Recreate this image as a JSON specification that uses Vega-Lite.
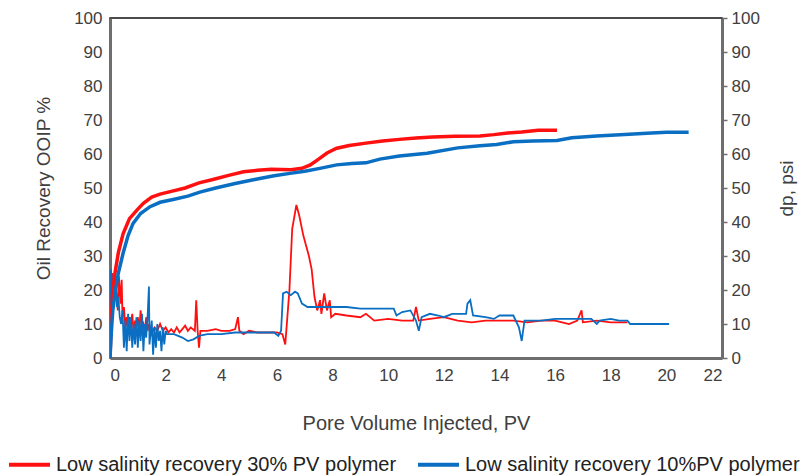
{
  "$schema": "https://vega.github.io/schema/vega-lite/v6.json",
  "width": 612,
  "height": 340,
  "autosize": {"type": "none"},
  "padding": {"left": 110, "top": 18, "right": 84, "bottom": 117},
  "config": {
    "font": "Liberation Sans",
    "view": {"stroke": "#111111", "strokeWidth": 1.5},
    "axis": {
      "grid": false,
      "domainColor": "#6e6e6e",
      "domainWidth": 3,
      "labelColor": "#404040",
      "labelFontSize": 17,
      "titleColor": "#404040",
      "titleFontSize": 19,
      "titleFontWeight": "normal"
    }
  },
  "datasets": {
    "recovery": [
      {"pv": 0, "value": 0, "series": "Low salinity recovery 30% PV polymer"},
      {"pv": 0.05, "value": 12, "series": "Low salinity recovery 30% PV polymer"},
      {"pv": 0.1, "value": 20, "series": "Low salinity recovery 30% PV polymer"},
      {"pv": 0.18, "value": 25, "series": "Low salinity recovery 30% PV polymer"},
      {"pv": 0.3, "value": 31, "series": "Low salinity recovery 30% PV polymer"},
      {"pv": 0.47, "value": 36.5, "series": "Low salinity recovery 30% PV polymer"},
      {"pv": 0.7, "value": 41, "series": "Low salinity recovery 30% PV polymer"},
      {"pv": 1.0, "value": 43.8, "series": "Low salinity recovery 30% PV polymer"},
      {"pv": 1.2, "value": 45.5, "series": "Low salinity recovery 30% PV polymer"},
      {"pv": 1.5, "value": 47.3, "series": "Low salinity recovery 30% PV polymer"},
      {"pv": 1.8, "value": 48.2, "series": "Low salinity recovery 30% PV polymer"},
      {"pv": 2.2, "value": 49, "series": "Low salinity recovery 30% PV polymer"},
      {"pv": 2.7, "value": 50, "series": "Low salinity recovery 30% PV polymer"},
      {"pv": 3.2, "value": 51.5, "series": "Low salinity recovery 30% PV polymer"},
      {"pv": 3.7, "value": 52.5, "series": "Low salinity recovery 30% PV polymer"},
      {"pv": 4.3, "value": 53.8, "series": "Low salinity recovery 30% PV polymer"},
      {"pv": 4.8, "value": 54.8, "series": "Low salinity recovery 30% PV polymer"},
      {"pv": 5.3, "value": 55.2, "series": "Low salinity recovery 30% PV polymer"},
      {"pv": 5.8, "value": 55.5, "series": "Low salinity recovery 30% PV polymer"},
      {"pv": 6.5, "value": 55.4, "series": "Low salinity recovery 30% PV polymer"},
      {"pv": 6.9, "value": 55.8, "series": "Low salinity recovery 30% PV polymer"},
      {"pv": 7.2, "value": 56.8, "series": "Low salinity recovery 30% PV polymer"},
      {"pv": 7.5, "value": 58.5, "series": "Low salinity recovery 30% PV polymer"},
      {"pv": 7.8, "value": 60.3, "series": "Low salinity recovery 30% PV polymer"},
      {"pv": 8.15, "value": 61.7, "series": "Low salinity recovery 30% PV polymer"},
      {"pv": 8.6, "value": 62.5, "series": "Low salinity recovery 30% PV polymer"},
      {"pv": 9.2, "value": 63.2, "series": "Low salinity recovery 30% PV polymer"},
      {"pv": 9.8, "value": 63.8, "series": "Low salinity recovery 30% PV polymer"},
      {"pv": 10.4, "value": 64.3, "series": "Low salinity recovery 30% PV polymer"},
      {"pv": 11.0, "value": 64.7, "series": "Low salinity recovery 30% PV polymer"},
      {"pv": 11.6, "value": 65, "series": "Low salinity recovery 30% PV polymer"},
      {"pv": 12.4, "value": 65.2, "series": "Low salinity recovery 30% PV polymer"},
      {"pv": 13.3, "value": 65.3, "series": "Low salinity recovery 30% PV polymer"},
      {"pv": 13.8, "value": 65.7, "series": "Low salinity recovery 30% PV polymer"},
      {"pv": 14.3, "value": 66.2, "series": "Low salinity recovery 30% PV polymer"},
      {"pv": 14.8, "value": 66.5, "series": "Low salinity recovery 30% PV polymer"},
      {"pv": 15.4, "value": 67, "series": "Low salinity recovery 30% PV polymer"},
      {"pv": 16.07, "value": 67, "series": "Low salinity recovery 30% PV polymer"},
      {"pv": 0, "value": 0, "series": "Low salinity recovery 10%PV polymer"},
      {"pv": 0.05, "value": 8, "series": "Low salinity recovery 10%PV polymer"},
      {"pv": 0.1, "value": 14, "series": "Low salinity recovery 10%PV polymer"},
      {"pv": 0.18, "value": 19, "series": "Low salinity recovery 10%PV polymer"},
      {"pv": 0.3, "value": 25, "series": "Low salinity recovery 10%PV polymer"},
      {"pv": 0.47, "value": 30.8, "series": "Low salinity recovery 10%PV polymer"},
      {"pv": 0.65, "value": 36, "series": "Low salinity recovery 10%PV polymer"},
      {"pv": 0.83, "value": 39.6, "series": "Low salinity recovery 10%PV polymer"},
      {"pv": 1.1, "value": 42.5, "series": "Low salinity recovery 10%PV polymer"},
      {"pv": 1.44, "value": 44.5, "series": "Low salinity recovery 10%PV polymer"},
      {"pv": 1.8, "value": 45.8, "series": "Low salinity recovery 10%PV polymer"},
      {"pv": 2.27, "value": 46.6, "series": "Low salinity recovery 10%PV polymer"},
      {"pv": 2.8, "value": 47.6, "series": "Low salinity recovery 10%PV polymer"},
      {"pv": 3.23, "value": 48.8, "series": "Low salinity recovery 10%PV polymer"},
      {"pv": 3.8, "value": 50, "series": "Low salinity recovery 10%PV polymer"},
      {"pv": 4.5, "value": 51.3, "series": "Low salinity recovery 10%PV polymer"},
      {"pv": 5.2, "value": 52.5, "series": "Low salinity recovery 10%PV polymer"},
      {"pv": 5.9, "value": 53.6, "series": "Low salinity recovery 10%PV polymer"},
      {"pv": 6.47, "value": 54.3, "series": "Low salinity recovery 10%PV polymer"},
      {"pv": 7.0, "value": 54.9, "series": "Low salinity recovery 10%PV polymer"},
      {"pv": 7.5, "value": 55.7, "series": "Low salinity recovery 10%PV polymer"},
      {"pv": 8.15, "value": 56.8, "series": "Low salinity recovery 10%PV polymer"},
      {"pv": 8.7, "value": 57.2, "series": "Low salinity recovery 10%PV polymer"},
      {"pv": 9.2, "value": 57.4, "series": "Low salinity recovery 10%PV polymer"},
      {"pv": 9.7, "value": 58.5, "series": "Low salinity recovery 10%PV polymer"},
      {"pv": 10.4, "value": 59.4, "series": "Low salinity recovery 10%PV polymer"},
      {"pv": 11.4, "value": 60.2, "series": "Low salinity recovery 10%PV polymer"},
      {"pv": 12.5, "value": 61.8, "series": "Low salinity recovery 10%PV polymer"},
      {"pv": 13.3, "value": 62.4, "series": "Low salinity recovery 10%PV polymer"},
      {"pv": 13.9, "value": 62.8, "series": "Low salinity recovery 10%PV polymer"},
      {"pv": 14.5, "value": 63.6, "series": "Low salinity recovery 10%PV polymer"},
      {"pv": 15.2, "value": 63.8, "series": "Low salinity recovery 10%PV polymer"},
      {"pv": 16.07, "value": 64, "series": "Low salinity recovery 10%PV polymer"},
      {"pv": 16.6, "value": 64.8, "series": "Low salinity recovery 10%PV polymer"},
      {"pv": 17.5, "value": 65.3, "series": "Low salinity recovery 10%PV polymer"},
      {"pv": 18.5, "value": 65.7, "series": "Low salinity recovery 10%PV polymer"},
      {"pv": 19.3, "value": 66.1, "series": "Low salinity recovery 10%PV polymer"},
      {"pv": 20.0, "value": 66.4, "series": "Low salinity recovery 10%PV polymer"},
      {"pv": 20.8, "value": 66.4, "series": "Low salinity recovery 10%PV polymer"}
    ],
    "pressure": [
      {"pv": 0.0, "dp": 0, "series": "Low salinity recovery 30% PV polymer"},
      {"pv": 0.05, "dp": 12, "series": "Low salinity recovery 30% PV polymer"},
      {"pv": 0.08, "dp": 25, "series": "Low salinity recovery 30% PV polymer"},
      {"pv": 0.12, "dp": 18, "series": "Low salinity recovery 30% PV polymer"},
      {"pv": 0.18, "dp": 22, "series": "Low salinity recovery 30% PV polymer"},
      {"pv": 0.22, "dp": 20, "series": "Low salinity recovery 30% PV polymer"},
      {"pv": 0.28, "dp": 14, "series": "Low salinity recovery 30% PV polymer"},
      {"pv": 0.32, "dp": 24, "series": "Low salinity recovery 30% PV polymer"},
      {"pv": 0.38, "dp": 16, "series": "Low salinity recovery 30% PV polymer"},
      {"pv": 0.42, "dp": 23, "series": "Low salinity recovery 30% PV polymer"},
      {"pv": 0.45, "dp": 12, "series": "Low salinity recovery 30% PV polymer"},
      {"pv": 0.5, "dp": 15, "series": "Low salinity recovery 30% PV polymer"},
      {"pv": 0.55, "dp": 9, "series": "Low salinity recovery 30% PV polymer"},
      {"pv": 0.6, "dp": 12, "series": "Low salinity recovery 30% PV polymer"},
      {"pv": 0.65, "dp": 8, "series": "Low salinity recovery 30% PV polymer"},
      {"pv": 0.7, "dp": 12, "series": "Low salinity recovery 30% PV polymer"},
      {"pv": 0.75, "dp": 10, "series": "Low salinity recovery 30% PV polymer"},
      {"pv": 0.8, "dp": 13, "series": "Low salinity recovery 30% PV polymer"},
      {"pv": 0.85, "dp": 7, "series": "Low salinity recovery 30% PV polymer"},
      {"pv": 0.9, "dp": 11, "series": "Low salinity recovery 30% PV polymer"},
      {"pv": 0.95, "dp": 9, "series": "Low salinity recovery 30% PV polymer"},
      {"pv": 1.0, "dp": 12, "series": "Low salinity recovery 30% PV polymer"},
      {"pv": 1.05, "dp": 8, "series": "Low salinity recovery 30% PV polymer"},
      {"pv": 1.1, "dp": 14, "series": "Low salinity recovery 30% PV polymer"},
      {"pv": 1.15, "dp": 9, "series": "Low salinity recovery 30% PV polymer"},
      {"pv": 1.2, "dp": 10, "series": "Low salinity recovery 30% PV polymer"},
      {"pv": 1.25, "dp": 7, "series": "Low salinity recovery 30% PV polymer"},
      {"pv": 1.3, "dp": 12, "series": "Low salinity recovery 30% PV polymer"},
      {"pv": 1.35, "dp": 8, "series": "Low salinity recovery 30% PV polymer"},
      {"pv": 1.4, "dp": 10, "series": "Low salinity recovery 30% PV polymer"},
      {"pv": 1.5, "dp": 7, "series": "Low salinity recovery 30% PV polymer"},
      {"pv": 1.6, "dp": 9, "series": "Low salinity recovery 30% PV polymer"},
      {"pv": 1.7, "dp": 8, "series": "Low salinity recovery 30% PV polymer"},
      {"pv": 1.8, "dp": 10, "series": "Low salinity recovery 30% PV polymer"},
      {"pv": 1.9, "dp": 8, "series": "Low salinity recovery 30% PV polymer"},
      {"pv": 2.0, "dp": 9, "series": "Low salinity recovery 30% PV polymer"},
      {"pv": 2.1, "dp": 7.5, "series": "Low salinity recovery 30% PV polymer"},
      {"pv": 2.2, "dp": 8.5, "series": "Low salinity recovery 30% PV polymer"},
      {"pv": 2.3, "dp": 7.5, "series": "Low salinity recovery 30% PV polymer"},
      {"pv": 2.4, "dp": 9, "series": "Low salinity recovery 30% PV polymer"},
      {"pv": 2.5, "dp": 7.5, "series": "Low salinity recovery 30% PV polymer"},
      {"pv": 2.6, "dp": 8.5, "series": "Low salinity recovery 30% PV polymer"},
      {"pv": 2.7, "dp": 9.5, "series": "Low salinity recovery 30% PV polymer"},
      {"pv": 2.8, "dp": 8, "series": "Low salinity recovery 30% PV polymer"},
      {"pv": 2.9, "dp": 9, "series": "Low salinity recovery 30% PV polymer"},
      {"pv": 3.05, "dp": 8, "series": "Low salinity recovery 30% PV polymer"},
      {"pv": 3.1, "dp": 17, "series": "Low salinity recovery 30% PV polymer"},
      {"pv": 3.15, "dp": 8, "series": "Low salinity recovery 30% PV polymer"},
      {"pv": 3.2, "dp": 3, "series": "Low salinity recovery 30% PV polymer"},
      {"pv": 3.25, "dp": 8, "series": "Low salinity recovery 30% PV polymer"},
      {"pv": 3.5, "dp": 8, "series": "Low salinity recovery 30% PV polymer"},
      {"pv": 3.8, "dp": 8.5, "series": "Low salinity recovery 30% PV polymer"},
      {"pv": 4.0, "dp": 8, "series": "Low salinity recovery 30% PV polymer"},
      {"pv": 4.3, "dp": 8, "series": "Low salinity recovery 30% PV polymer"},
      {"pv": 4.5, "dp": 8.5, "series": "Low salinity recovery 30% PV polymer"},
      {"pv": 4.6, "dp": 12, "series": "Low salinity recovery 30% PV polymer"},
      {"pv": 4.65, "dp": 8, "series": "Low salinity recovery 30% PV polymer"},
      {"pv": 4.8, "dp": 7, "series": "Low salinity recovery 30% PV polymer"},
      {"pv": 5.0, "dp": 8, "series": "Low salinity recovery 30% PV polymer"},
      {"pv": 5.3, "dp": 7.5, "series": "Low salinity recovery 30% PV polymer"},
      {"pv": 5.6, "dp": 7.5, "series": "Low salinity recovery 30% PV polymer"},
      {"pv": 6.0, "dp": 7.5, "series": "Low salinity recovery 30% PV polymer"},
      {"pv": 6.2, "dp": 7, "series": "Low salinity recovery 30% PV polymer"},
      {"pv": 6.3, "dp": 4, "series": "Low salinity recovery 30% PV polymer"},
      {"pv": 6.45, "dp": 20, "series": "Low salinity recovery 30% PV polymer"},
      {"pv": 6.55, "dp": 38, "series": "Low salinity recovery 30% PV polymer"},
      {"pv": 6.7, "dp": 45, "series": "Low salinity recovery 30% PV polymer"},
      {"pv": 6.8, "dp": 42, "series": "Low salinity recovery 30% PV polymer"},
      {"pv": 6.95, "dp": 36, "series": "Low salinity recovery 30% PV polymer"},
      {"pv": 7.05, "dp": 33, "series": "Low salinity recovery 30% PV polymer"},
      {"pv": 7.15, "dp": 30, "series": "Low salinity recovery 30% PV polymer"},
      {"pv": 7.25, "dp": 26, "series": "Low salinity recovery 30% PV polymer"},
      {"pv": 7.35, "dp": 18, "series": "Low salinity recovery 30% PV polymer"},
      {"pv": 7.45, "dp": 14, "series": "Low salinity recovery 30% PV polymer"},
      {"pv": 7.55, "dp": 17, "series": "Low salinity recovery 30% PV polymer"},
      {"pv": 7.6, "dp": 13, "series": "Low salinity recovery 30% PV polymer"},
      {"pv": 7.7, "dp": 19, "series": "Low salinity recovery 30% PV polymer"},
      {"pv": 7.8, "dp": 14, "series": "Low salinity recovery 30% PV polymer"},
      {"pv": 7.9, "dp": 17, "series": "Low salinity recovery 30% PV polymer"},
      {"pv": 7.95, "dp": 12, "series": "Low salinity recovery 30% PV polymer"},
      {"pv": 8.1, "dp": 13, "series": "Low salinity recovery 30% PV polymer"},
      {"pv": 8.5, "dp": 12.5, "series": "Low salinity recovery 30% PV polymer"},
      {"pv": 9.0, "dp": 12, "series": "Low salinity recovery 30% PV polymer"},
      {"pv": 9.2, "dp": 13, "series": "Low salinity recovery 30% PV polymer"},
      {"pv": 9.5, "dp": 11, "series": "Low salinity recovery 30% PV polymer"},
      {"pv": 10.0, "dp": 11.5, "series": "Low salinity recovery 30% PV polymer"},
      {"pv": 10.5, "dp": 11, "series": "Low salinity recovery 30% PV polymer"},
      {"pv": 10.9, "dp": 11, "series": "Low salinity recovery 30% PV polymer"},
      {"pv": 11.0, "dp": 15, "series": "Low salinity recovery 30% PV polymer"},
      {"pv": 11.1, "dp": 11, "series": "Low salinity recovery 30% PV polymer"},
      {"pv": 11.5, "dp": 11.5, "series": "Low salinity recovery 30% PV polymer"},
      {"pv": 12.0, "dp": 12, "series": "Low salinity recovery 30% PV polymer"},
      {"pv": 12.5, "dp": 11, "series": "Low salinity recovery 30% PV polymer"},
      {"pv": 13.0, "dp": 10.5, "series": "Low salinity recovery 30% PV polymer"},
      {"pv": 13.5, "dp": 11, "series": "Low salinity recovery 30% PV polymer"},
      {"pv": 14.0, "dp": 11, "series": "Low salinity recovery 30% PV polymer"},
      {"pv": 14.5, "dp": 11, "series": "Low salinity recovery 30% PV polymer"},
      {"pv": 15.0, "dp": 10.5, "series": "Low salinity recovery 30% PV polymer"},
      {"pv": 15.5, "dp": 11, "series": "Low salinity recovery 30% PV polymer"},
      {"pv": 16.0, "dp": 11, "series": "Low salinity recovery 30% PV polymer"},
      {"pv": 16.5, "dp": 10, "series": "Low salinity recovery 30% PV polymer"},
      {"pv": 16.8, "dp": 11, "series": "Low salinity recovery 30% PV polymer"},
      {"pv": 16.95, "dp": 14, "series": "Low salinity recovery 30% PV polymer"},
      {"pv": 17.0, "dp": 10.5, "series": "Low salinity recovery 30% PV polymer"},
      {"pv": 17.5, "dp": 11, "series": "Low salinity recovery 30% PV polymer"},
      {"pv": 18.0, "dp": 10.5, "series": "Low salinity recovery 30% PV polymer"},
      {"pv": 18.6, "dp": 10.5, "series": "Low salinity recovery 30% PV polymer"},
      {"pv": 0.0, "dp": 0, "series": "Low salinity recovery 10%PV polymer"},
      {"pv": 0.03, "dp": 26, "series": "Low salinity recovery 10%PV polymer"},
      {"pv": 0.08, "dp": 22, "series": "Low salinity recovery 10%PV polymer"},
      {"pv": 0.15, "dp": 18, "series": "Low salinity recovery 10%PV polymer"},
      {"pv": 0.2, "dp": 24, "series": "Low salinity recovery 10%PV polymer"},
      {"pv": 0.25, "dp": 15, "series": "Low salinity recovery 10%PV polymer"},
      {"pv": 0.3, "dp": 18, "series": "Low salinity recovery 10%PV polymer"},
      {"pv": 0.35, "dp": 12, "series": "Low salinity recovery 10%PV polymer"},
      {"pv": 0.4, "dp": 10, "series": "Low salinity recovery 10%PV polymer"},
      {"pv": 0.45, "dp": 14, "series": "Low salinity recovery 10%PV polymer"},
      {"pv": 0.5, "dp": 3, "series": "Low salinity recovery 10%PV polymer"},
      {"pv": 0.55, "dp": 11, "series": "Low salinity recovery 10%PV polymer"},
      {"pv": 0.6, "dp": 2, "series": "Low salinity recovery 10%PV polymer"},
      {"pv": 0.65, "dp": 13, "series": "Low salinity recovery 10%PV polymer"},
      {"pv": 0.7, "dp": 5, "series": "Low salinity recovery 10%PV polymer"},
      {"pv": 0.75, "dp": 12, "series": "Low salinity recovery 10%PV polymer"},
      {"pv": 0.8, "dp": 3, "series": "Low salinity recovery 10%PV polymer"},
      {"pv": 0.85, "dp": 10, "series": "Low salinity recovery 10%PV polymer"},
      {"pv": 0.9, "dp": 4, "series": "Low salinity recovery 10%PV polymer"},
      {"pv": 0.95, "dp": 12, "series": "Low salinity recovery 10%PV polymer"},
      {"pv": 1.0, "dp": 3, "series": "Low salinity recovery 10%PV polymer"},
      {"pv": 1.05, "dp": 11, "series": "Low salinity recovery 10%PV polymer"},
      {"pv": 1.1, "dp": 5, "series": "Low salinity recovery 10%PV polymer"},
      {"pv": 1.15, "dp": 13, "series": "Low salinity recovery 10%PV polymer"},
      {"pv": 1.2, "dp": 2, "series": "Low salinity recovery 10%PV polymer"},
      {"pv": 1.25, "dp": 10, "series": "Low salinity recovery 10%PV polymer"},
      {"pv": 1.3, "dp": 6, "series": "Low salinity recovery 10%PV polymer"},
      {"pv": 1.35, "dp": 12, "series": "Low salinity recovery 10%PV polymer"},
      {"pv": 1.4, "dp": 21, "series": "Low salinity recovery 10%PV polymer"},
      {"pv": 1.42, "dp": 4, "series": "Low salinity recovery 10%PV polymer"},
      {"pv": 1.5, "dp": 11, "series": "Low salinity recovery 10%PV polymer"},
      {"pv": 1.55, "dp": 1, "series": "Low salinity recovery 10%PV polymer"},
      {"pv": 1.6, "dp": 9, "series": "Low salinity recovery 10%PV polymer"},
      {"pv": 1.65, "dp": 3, "series": "Low salinity recovery 10%PV polymer"},
      {"pv": 1.7, "dp": 10, "series": "Low salinity recovery 10%PV polymer"},
      {"pv": 1.75, "dp": 5, "series": "Low salinity recovery 10%PV polymer"},
      {"pv": 1.8, "dp": 8, "series": "Low salinity recovery 10%PV polymer"},
      {"pv": 1.85, "dp": 2, "series": "Low salinity recovery 10%PV polymer"},
      {"pv": 1.9, "dp": 9, "series": "Low salinity recovery 10%PV polymer"},
      {"pv": 1.95, "dp": 4, "series": "Low salinity recovery 10%PV polymer"},
      {"pv": 2.0, "dp": 8, "series": "Low salinity recovery 10%PV polymer"},
      {"pv": 2.05, "dp": 7, "series": "Low salinity recovery 10%PV polymer"},
      {"pv": 2.3, "dp": 7, "series": "Low salinity recovery 10%PV polymer"},
      {"pv": 2.6, "dp": 6, "series": "Low salinity recovery 10%PV polymer"},
      {"pv": 2.8, "dp": 5, "series": "Low salinity recovery 10%PV polymer"},
      {"pv": 3.0, "dp": 5.5, "series": "Low salinity recovery 10%PV polymer"},
      {"pv": 3.2, "dp": 6.5, "series": "Low salinity recovery 10%PV polymer"},
      {"pv": 3.5, "dp": 7, "series": "Low salinity recovery 10%PV polymer"},
      {"pv": 4.0, "dp": 7, "series": "Low salinity recovery 10%PV polymer"},
      {"pv": 4.5, "dp": 7.5, "series": "Low salinity recovery 10%PV polymer"},
      {"pv": 5.0, "dp": 7.5, "series": "Low salinity recovery 10%PV polymer"},
      {"pv": 5.5, "dp": 7.5, "series": "Low salinity recovery 10%PV polymer"},
      {"pv": 5.9, "dp": 7.5, "series": "Low salinity recovery 10%PV polymer"},
      {"pv": 6.05, "dp": 6.5, "series": "Low salinity recovery 10%PV polymer"},
      {"pv": 6.15, "dp": 8, "series": "Low salinity recovery 10%PV polymer"},
      {"pv": 6.22, "dp": 19, "series": "Low salinity recovery 10%PV polymer"},
      {"pv": 6.35, "dp": 19.5, "series": "Low salinity recovery 10%PV polymer"},
      {"pv": 6.5, "dp": 18.5, "series": "Low salinity recovery 10%PV polymer"},
      {"pv": 6.65, "dp": 19.5, "series": "Low salinity recovery 10%PV polymer"},
      {"pv": 6.75, "dp": 19, "series": "Low salinity recovery 10%PV polymer"},
      {"pv": 6.9, "dp": 16, "series": "Low salinity recovery 10%PV polymer"},
      {"pv": 7.1, "dp": 15, "series": "Low salinity recovery 10%PV polymer"},
      {"pv": 7.5, "dp": 15, "series": "Low salinity recovery 10%PV polymer"},
      {"pv": 8.0, "dp": 15, "series": "Low salinity recovery 10%PV polymer"},
      {"pv": 8.5, "dp": 15, "series": "Low salinity recovery 10%PV polymer"},
      {"pv": 9.0, "dp": 14.5, "series": "Low salinity recovery 10%PV polymer"},
      {"pv": 9.5, "dp": 14.5, "series": "Low salinity recovery 10%PV polymer"},
      {"pv": 10.0, "dp": 14.5, "series": "Low salinity recovery 10%PV polymer"},
      {"pv": 10.2, "dp": 14.5, "series": "Low salinity recovery 10%PV polymer"},
      {"pv": 10.3, "dp": 12.5, "series": "Low salinity recovery 10%PV polymer"},
      {"pv": 10.5, "dp": 13.5, "series": "Low salinity recovery 10%PV polymer"},
      {"pv": 10.8, "dp": 14, "series": "Low salinity recovery 10%PV polymer"},
      {"pv": 11.0, "dp": 11, "series": "Low salinity recovery 10%PV polymer"},
      {"pv": 11.1, "dp": 8, "series": "Low salinity recovery 10%PV polymer"},
      {"pv": 11.2, "dp": 12, "series": "Low salinity recovery 10%PV polymer"},
      {"pv": 11.5, "dp": 13, "series": "Low salinity recovery 10%PV polymer"},
      {"pv": 11.8, "dp": 12.5, "series": "Low salinity recovery 10%PV polymer"},
      {"pv": 12.0, "dp": 12, "series": "Low salinity recovery 10%PV polymer"},
      {"pv": 12.3, "dp": 13, "series": "Low salinity recovery 10%PV polymer"},
      {"pv": 12.8, "dp": 13, "series": "Low salinity recovery 10%PV polymer"},
      {"pv": 12.85, "dp": 16, "series": "Low salinity recovery 10%PV polymer"},
      {"pv": 12.95, "dp": 17, "series": "Low salinity recovery 10%PV polymer"},
      {"pv": 13.05, "dp": 12.5, "series": "Low salinity recovery 10%PV polymer"},
      {"pv": 13.5, "dp": 12, "series": "Low salinity recovery 10%PV polymer"},
      {"pv": 13.8, "dp": 11.5, "series": "Low salinity recovery 10%PV polymer"},
      {"pv": 14.0, "dp": 12.5, "series": "Low salinity recovery 10%PV polymer"},
      {"pv": 14.5, "dp": 12.5, "series": "Low salinity recovery 10%PV polymer"},
      {"pv": 14.7, "dp": 9, "series": "Low salinity recovery 10%PV polymer"},
      {"pv": 14.8, "dp": 5, "series": "Low salinity recovery 10%PV polymer"},
      {"pv": 14.9, "dp": 11, "series": "Low salinity recovery 10%PV polymer"},
      {"pv": 15.2, "dp": 11, "series": "Low salinity recovery 10%PV polymer"},
      {"pv": 15.5, "dp": 11, "series": "Low salinity recovery 10%PV polymer"},
      {"pv": 16.0, "dp": 11.5, "series": "Low salinity recovery 10%PV polymer"},
      {"pv": 16.5, "dp": 11.5, "series": "Low salinity recovery 10%PV polymer"},
      {"pv": 17.0, "dp": 11.5, "series": "Low salinity recovery 10%PV polymer"},
      {"pv": 17.3, "dp": 11.5, "series": "Low salinity recovery 10%PV polymer"},
      {"pv": 17.5, "dp": 10, "series": "Low salinity recovery 10%PV polymer"},
      {"pv": 17.6, "dp": 11, "series": "Low salinity recovery 10%PV polymer"},
      {"pv": 18.0, "dp": 11.5, "series": "Low salinity recovery 10%PV polymer"},
      {"pv": 18.3, "dp": 11, "series": "Low salinity recovery 10%PV polymer"},
      {"pv": 18.6, "dp": 11, "series": "Low salinity recovery 10%PV polymer"},
      {"pv": 18.7, "dp": 10, "series": "Low salinity recovery 10%PV polymer"},
      {"pv": 19.0, "dp": 10, "series": "Low salinity recovery 10%PV polymer"},
      {"pv": 20.1, "dp": 10, "series": "Low salinity recovery 10%PV polymer"}
    ]
  },
  "layer": [
    {
      "data": {"name": "pressure"},
      "mark": {"type": "line", "strokeWidth": 1.8, "clip": true},
      "encoding": {
        "x": {
          "field": "pv", "type": "quantitative",
          "scale": {"domain": [0, 22], "nice": false},
          "axis": {"title": "Pore Volume Injected, PV", "titleFontSize": 20, "values": [0, 2, 4, 6, 8, 10, 12, 14, 16, 18, 20, 22], "ticks": false, "labelPadding": 9, "titlePadding": 30}
        },
        "y": {
          "field": "dp", "type": "quantitative",
          "scale": {"domain": [0, 100], "nice": false},
          "axis": {"orient": "right", "title": "dp, psi", "values": [0, 10, 20, 30, 40, 50, 60, 70, 80, 90, 100], "tickColor": "#6e6e6e", "tickSize": 5, "tickWidth": 1.5, "labelPadding": 4, "titleAngle": 270, "titlePadding": 37}
        },
        "color": {
          "field": "series", "type": "nominal",
          "scale": {"domain": ["Low salinity recovery 30% PV polymer", "Low salinity recovery 10%PV polymer"], "range": ["#FF1010", "#0A6FC2"]},
          "legend": {
            "title": null, "orient": "none", "direction": "horizontal",
            "legendX": -103, "legendY": 424,
            "symbolType": "stroke", "symbolSize": 1681, "symbolStrokeWidth": 4,
            "labelFontSize": 20, "labelColor": "#222222", "labelLimit": 500,
            "columnPadding": 13, "labelOffset": 4
          }
        }
      }
    },
    {
      "data": {"name": "recovery"},
      "mark": {"type": "line", "strokeWidth": 3.5, "clip": true},
      "encoding": {
        "x": {"field": "pv", "type": "quantitative"},
        "y": {
          "field": "value", "type": "quantitative",
          "scale": {"domain": [0, 100], "nice": false},
          "axis": {"orient": "left", "title": "Oil Recovery OOIP %", "values": [0, 10, 20, 30, 40, 50, 60, 70, 80, 90, 100], "ticks": false, "labelPadding": 8, "titlePadding": 20}
        },
        "color": {"field": "series", "type": "nominal"}
      }
    }
  ],
  "resolve": {"scale": {"y": "independent"}}
}
